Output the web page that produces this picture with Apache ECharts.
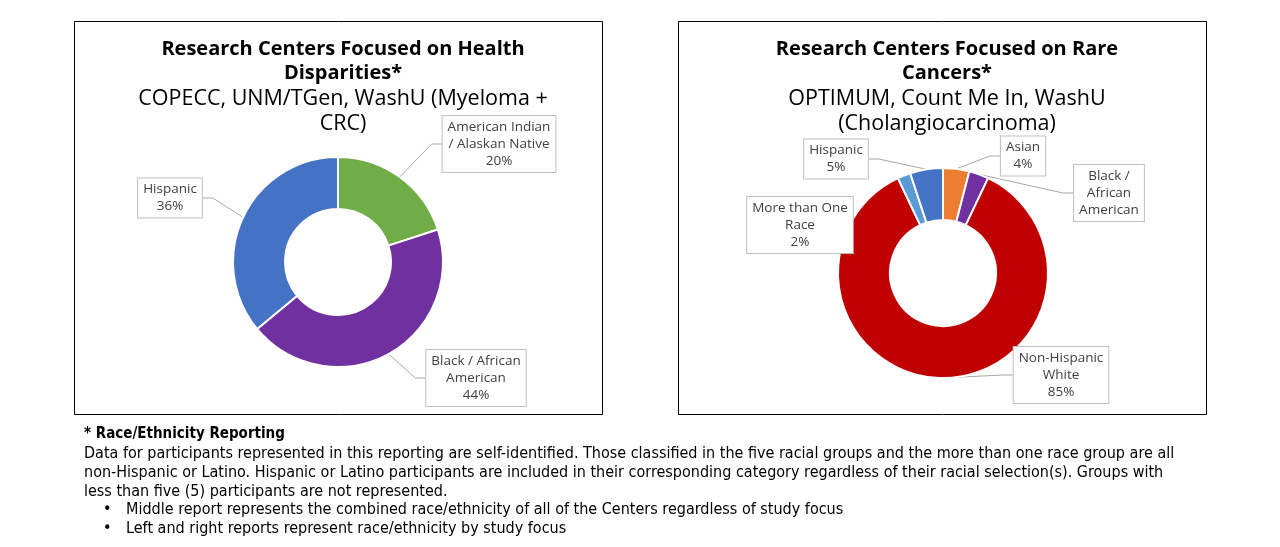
<!DOCTYPE html>
<html>
<head>
<meta charset="utf-8">
<script src="https://cdn.jsdelivr.net/npm/echarts@6/dist/echarts.min.js"></script>
<style>html,body{margin:0;padding:0;background:#fff;}#c{width:1280px;height:547px;}</style>
</head>
<body>
<div id="c"></div>
<script>
// ---- data ----
var leftCategories = ['American Indian / Alaskan Native', 'Black / African American', 'Hispanic'];
var leftValues = [20, 44, 36];
var rightCategories = ['Asian', 'Black / African American', 'Non-Hispanic White', 'More than One Race', 'Hispanic'];
var rightValues = [4, 3, 85, 2, 5];
var rightValueShown = [true, false, true, true, true];
var leftTitle = ['Research Centers Focused on Health', 'Disparities*'];
var leftSubtitle = ['COPECC, UNM/TGen, WashU (Myeloma +', 'CRC)'];
var rightTitle = ['Research Centers Focused on Rare', 'Cancers*'];
var rightSubtitle = ['OPTIMUM, Count Me In, WashU', '(Cholangiocarcinoma)'];
var noteHeading = '* Race/Ethnicity Reporting';
var noteLines = [
  'Data for participants represented in this reporting are self-identified. Those classified in the five racial groups and the more than one race group are all',
  'non-Hispanic or Latino. Hispanic or Latino participants are included in their corresponding category regardless of their racial selection(s). Groups with',
  'less than five (5) participants are not represented.'
];
var noteBullets = [
  'Middle report represents the combined race/ethnicity of all of the Centers regardless of study focus',
  'Left and right reports represent race/ethnicity by study focus'
];

// ---- styling / layout ----
var leftColors = ['#70ad47', '#7030a0', '#4472c4'];
var rightColors = ['#ed7d31', '#7030a0', '#c00000', '#5b9bd5', '#4472c4'];
var wrap = {
  'American Indian / Alaskan Native': 'American Indian\n/ Alaskan Native',
  'Black / African American|0': 'Black / African\nAmerican',
  'Black / African American|1': 'Black /\nAfrican\nAmerican',
  'More than One Race': 'More than One\nRace',
  'Non-Hispanic White': 'Non-Hispanic\nWhite'
};
var labelPos = [
  [[499, 144], [476, 378], [170, 198]],
  [[1023, 156], [1109, 193], [1061, 375], [800, 225], [836, 159]]
];

function fmt(si) {
  return function (p) {
    var n = wrap[p.name + '|' + si] || wrap[p.name] || p.name;
    if (si === 1 && !rightValueShown[p.dataIndex]) return n;
    return n + '\n' + p.value + '%';
  };
}

var FONT = 'Open Sans';
var labelStyle = {
  show: true, position: 'outside', color: '#404040', fontFamily: FONT, fontSize: 13.5,
  lineHeight: 17, backgroundColor: '#fff', borderColor: '#bfbfbf', borderWidth: 1,
  padding: [3, 5, 2, 5], align: 'center'
};

function pieSeries(si, cats, vals, colors, center) {
  return {
    type: 'pie', radius: [53, 105], center: center, startAngle: 90, clockwise: true,
    avoidLabelOverlap: false, silent: true,
    itemStyle: { borderColor: '#fff', borderWidth: 2 },
    label: Object.assign({ formatter: fmt(si) }, labelStyle),
    labelLine: { show: true, length: 10, length2: 10, lineStyle: { color: '#a6a6a6', width: 1 } },
    labelLayout: function (params) {
      var pt = labelPos[si][params.dataIndex];
      return { x: pt[0], y: pt[1], align: 'center', verticalAlign: 'middle' };
    },
    data: cats.map(function (c, i) { return { name: c, value: vals[i], itemStyle: { color: colors[i] } }; })
  };
}

function titleCfg(t, s, x) {
  return {
    text: t.join('\n'), subtext: s.join('\n'), left: x, top: 32, textAlign: 'center', itemGap: 1,
    textStyle: { fontFamily: FONT, fontSize: 20, fontWeight: 'bold', lineHeight: 24, color: '#000' },
    subtextStyle: { fontFamily: FONT, fontSize: 21.5, lineHeight: 25, color: '#000' }
  };
}

var NOTE_FONT = 'Liberation Sans Narrow, DejaVu Sans Condensed, sans-serif';
var graphics = [
  { type: 'rect', shape: { x: 74.5, y: 21.5, width: 528, height: 393 }, style: { fill: 'none', stroke: '#000', lineWidth: 1 }, z: -1 },
  { type: 'rect', shape: { x: 678.5, y: 21.5, width: 528, height: 393 }, style: { fill: 'none', stroke: '#000', lineWidth: 1 }, z: -1 },
  { type: 'text', x: 84, y: 434, style: { text: noteHeading, fontFamily: NOTE_FONT, fontSize: 15, fontWeight: 'bold', fill: '#000', verticalAlign: 'middle' } }
];
noteLines.forEach(function (l, i) {
  graphics.push({ type: 'text', x: 84, y: 454 + i * 18.7, style: { text: l, fontFamily: NOTE_FONT, fontSize: 16, fill: '#000', verticalAlign: 'middle' } });
});
noteBullets.forEach(function (l, i) {
  var y = 510 + i * 19;
  graphics.push({ type: 'text', x: 103, y: y, style: { text: '\u2022', fontFamily: NOTE_FONT, fontSize: 16, fill: '#000', verticalAlign: 'middle' } });
  graphics.push({ type: 'text', x: 126, y: y, style: { text: l, fontFamily: NOTE_FONT, fontSize: 16, fill: '#000', verticalAlign: 'middle' } });
});

var chart = echarts.init(document.getElementById('c'));
chart.setOption({
  animation: false,
  title: [titleCfg(leftTitle, leftSubtitle, 338), titleCfg(rightTitle, rightSubtitle, 942)],
  graphic: graphics,
  series: [
    pieSeries(0, leftCategories, leftValues, leftColors, [338, 262]),
    pieSeries(1, rightCategories, rightValues, rightColors, [943, 273])
  ]
});
</script>
</body>
</html>
